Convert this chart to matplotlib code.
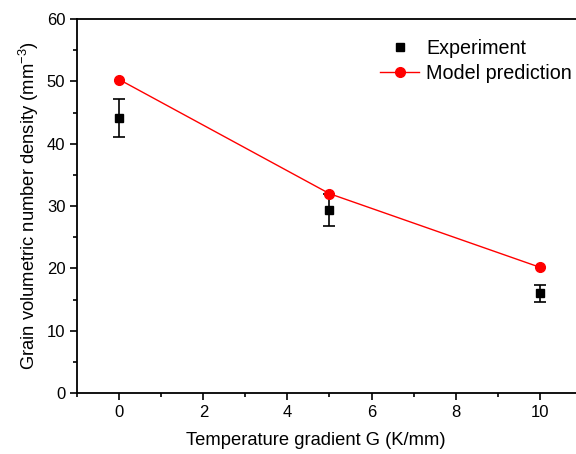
import matplotlib
matplotlib.use("Agg")
import matplotlib.pyplot as plt
from matplotlib.ticker import MultipleLocator

plt.rcParams['font.family'] = ['Liberation Sans', 'DejaVu Sans']
plt.rcParams['mathtext.fontset'] = 'custom'
plt.rcParams['mathtext.rm'] = 'Liberation Sans'
plt.rcParams['mathtext.it'] = 'Liberation Sans:italic'

# data
gradient = [0, 5, 10]
exp_density = [44.1, 29.4, 16.0]
exp_error = [3.0, 2.6, 1.4]
model_density = [50.3, 32.0, 20.2]

fig = plt.figure(figsize=(5.76, 4.54), dpi=100)
ax = fig.add_axes([0.134, 0.134, 0.876, 0.824])

ax.errorbar(gradient, exp_density, yerr=exp_error, fmt='none', ecolor='black',
            capsize=4, elinewidth=1.2, capthick=1.2, zorder=3)
ax.plot(gradient, exp_density, 's', color='black', ms=6, label='Experiment', zorder=3)
ax.plot(gradient, model_density, '-o', color='red', lw=1, ms=7,
        label='Model prediction', zorder=4)

ax.set_xlim(-1, 11)
ax.set_ylim(0, 60)
ax.xaxis.set_major_locator(MultipleLocator(2))
ax.xaxis.set_minor_locator(MultipleLocator(1))
ax.yaxis.set_major_locator(MultipleLocator(10))
ax.yaxis.set_minor_locator(MultipleLocator(5))
ax.tick_params(which='major', direction='out', length=5, width=1.2, labelsize=12)
ax.tick_params(which='minor', direction='out', length=3, width=1.2)
for s in ax.spines.values():
    s.set_linewidth(1.3)

ax.set_xlabel('Temperature gradient G (K/mm)', fontsize=13.2)
ax.xaxis.set_label_coords(0.473, -0.105)
ax.set_ylabel('Grain volumetric number density (mm$^{-3}$)', fontsize=13.2, labelpad=4)

ax.legend(loc='upper left', bbox_to_anchor=(0.565, 0.995), frameon=False,
          fontsize=14.2, handlelength=2.0, handletextpad=0.35, labelspacing=0.3)

fig.savefig('out.png', dpi=100)
